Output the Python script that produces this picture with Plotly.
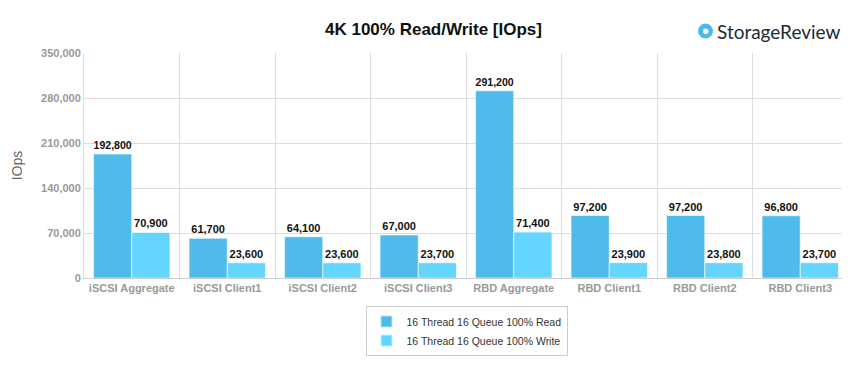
import plotly.graph_objects as go

categories = ["iSCSI Aggregate", "iSCSI Client1", "iSCSI Client2", "iSCSI Client3",
              "RBD Aggregate", "RBD Client1", "RBD Client2", "RBD Client3"]
read_vals = [192800, 61700, 64100, 67000, 291200, 97200, 97200, 96800]
write_vals = [70900, 23600, 23600, 23700, 71400, 23900, 23800, 23700]
series_names = ["16 Thread 16 Queue 100% Read", "16 Thread 16 Queue 100% Write"]
tick_vals = [0, 70000, 140000, 210000, 280000, 350000]

FONT = "Liberation Sans, Arial, Helvetica, sans-serif"

# the page has an 8px body margin; work in page pixels and convert
OFF = 8
W, H = 850 - OFF, 368 - OFF
PL, PR, PT, PB = 84 - OFF, 848 - OFF, 53 - OFF, 278 - OFF
PW, PH = PR - PL, PB - PT


def px(x):
    return (x - OFF - PL) / PW


def py(y):
    return (PB - (y - OFF)) / PH


fig = go.Figure()
for name, vals, color in [(series_names[0], read_vals, "#4fbbeb"),
                          (series_names[1], write_vals, "#63d5fe")]:
    fig.add_trace(go.Bar(
        x=categories, y=vals, name=name,
        marker=dict(color=color, line=dict(color="rgba(255,255,255,0.6)", width=1)),
        text=[f"{v:,}" for v in vals], textposition="outside",
        textfont=dict(family=FONT, size=11, color="#111", weight="bold"),
        cliponaxis=False,
    ))

fig.update_layout(
    width=W, height=H,
    margin=dict(l=PL, r=W - PR, t=PT, b=H - PB, autoexpand=False),
    paper_bgcolor="white", plot_bgcolor="white",
    barmode="group", bargap=0.2, bargroupgap=0,
    title=dict(text="<b>4K 100% Read/Write [IOps]</b>", x=(433.5 - OFF) / W,
               xanchor="center", y=1 - (29 - OFF) / H, yanchor="middle",
               font=dict(family=FONT, size=17, color="#111")),
    font=dict(family=FONT),
    xaxis=dict(showgrid=True, gridcolor="#dddddd", showline=True, linecolor="#cccccc",
               tickfont=dict(family=FONT, size=11, color="#999999", weight="bold"),
               ticks="", tickson="boundaries", automargin=False),
    yaxis=dict(range=[0, 350000], tickvals=tick_vals,
               ticktext=[f"{v:,}" for v in tick_vals],
               showgrid=True, gridcolor="#dddddd", showline=True, linecolor="#dddddd",
               zeroline=False, automargin=False,
               tickfont=dict(family=FONT, size=11, color="#999999", weight="bold"),
               title=dict(text="IOps", font=dict(family=FONT, size=14, color="#666666"),
                          standoff=15)),
    legend=dict(orientation="v", x=px(466.5), xanchor="center", y=py(306), yanchor="top",
                bordercolor="#cccccc", borderwidth=1,
                font=dict(family=FONT, size=10.5, color="#333"),
                itemsizing="constant", itemwidth=30, tracegroupgap=0),
    showlegend=True,
)

# StorageReview logo
fig.add_shape(type="circle", xref="paper", yref="paper",
              x0=px(698), x1=px(713), y0=py(38.5), y1=py(23.5),
              fillcolor="#4db8ea", line=dict(width=0))
fig.add_shape(type="circle", xref="paper", yref="paper",
              x0=px(703), x1=px(708.5), y0=py(34), y1=py(28.5),
              fillcolor="white", line=dict(width=0))
fig.add_annotation(text="StorageReview", xref="paper", yref="paper",
                   x=px(715), xanchor="left",
                   y=py(31), yanchor="middle", showarrow=False,
                   font=dict(family="Lato, Open Sans, sans-serif", size=19, color="#1d2b36"))

fig.write_html("out.html")
